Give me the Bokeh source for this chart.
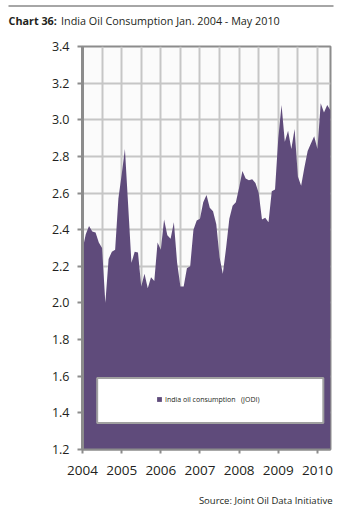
from bokeh.plotting import figure
from bokeh.layouts import column, row
from bokeh.models import (ColumnDataSource, FixedTicker, BoxAnnotation,
                          Legend, LegendItem, PrintfTickFormatter)
from bokeh.core.properties import value
from bokeh.embed import file_html
from bokeh.resources import INLINE

# ---- data (India oil consumption, monthly, Jan 2004 - May 2010) ----
start_year = 2004
consumption = [
    2.29, 2.375, 2.42, 2.39, 2.385, 2.33, 2.30, 2.00, 2.24, 2.28, 2.29, 2.57,   # 2004
    2.70, 2.84, 2.53, 2.22, 2.28, 2.275, 2.09, 2.16, 2.08, 2.14, 2.12, 2.33,    # 2005
    2.29, 2.455, 2.37, 2.35, 2.44, 2.22, 2.09, 2.09, 2.19, 2.20, 2.40, 2.45,    # 2006
    2.46, 2.55, 2.59, 2.52, 2.50, 2.43, 2.25, 2.16, 2.30, 2.46, 2.53, 2.55,     # 2007
    2.63, 2.72, 2.68, 2.67, 2.675, 2.655, 2.60, 2.455, 2.465, 2.44, 2.61, 2.62, # 2008
    2.90, 3.08, 2.88, 2.94, 2.84, 2.95, 2.69, 2.64, 2.74, 2.83, 2.87, 2.91,     # 2009
    2.84, 3.09, 3.04, 3.08, 3.05,                                               # 2010
]
year_ticks = [2004, 2005, 2006, 2007, 2008, 2009, 2010]
y_ticks = [1.2, 1.4, 1.6, 1.8, 2.0, 2.2, 2.4, 2.6, 2.8, 3.0, 3.2, 3.4]
title_bold = "Chart 36:"
title_rest = "India Oil Consumption Jan. 2004 - May 2010"
source_text = "Source: Joint Oil Data Initiative"
legend_label = "India oil consumption   (JODI)"

x = [start_year + i / 12 for i in range(len(consumption))]
src = ColumnDataSource(dict(x=x, y=consumption))

FONT = "Open Sans"
TXT = "#231f20"
GRAY = "#8c8c8c"
W = 341
HEAD_H = 28
FOOT_H = 20
MAIN_H = 508 - HEAD_H - FOOT_H
FRAME_TOP, FRAME_BOTTOM = 46, 449


def blank(height):
    f = figure(width=W, height=height, x_range=(0, W), y_range=(height, 0),
               output_backend="svg", toolbar_location=None,
               min_border=0, outline_line_color=None,
               x_axis_type=None, y_axis_type=None)
    f.grid.visible = False
    return f


# ---- header: rule + title ----
head = blank(HEAD_H)
head.segment(x0=[8], y0=[5.5], x1=[333], y1=[5.5], line_color="#888888", line_width=1.5)
head.text(x=[8], y=[20], text=[title_bold], text_font=value(FONT),
          text_font_style="bold", text_font_size="10.8px", text_color=TXT,
          text_baseline="alphabetic")
head.text(x=[60.5], y=[20], text=[title_rest], text_font=value(FONT),
          text_font_size="10.8px", text_color=TXT, text_baseline="alphabetic")

# ---- main chart ----
p = figure(width=W, height=MAIN_H,
           x_range=(x[0], x[-1]), y_range=(y_ticks[0], y_ticks[-1]),
           output_backend="svg", toolbar_location=None,
           min_border_left=82, min_border_right=11,
           min_border_top=FRAME_TOP - HEAD_H,
           min_border_bottom=HEAD_H + MAIN_H - FRAME_BOTTOM,
           background_fill_color="#fbfbfb", border_fill_color="white",
           outline_line_color=GRAY, outline_line_width=2)

area = p.varea(x="x", y1=y_ticks[0], y2="y", source=src, fill_color="#5f4b7b")

half_years = [year_ticks[0] + k * 0.5 for k in range(2 * (len(year_ticks) - 1) + 1)]
p.xgrid.ticker = FixedTicker(ticks=half_years)
p.ygrid.ticker = FixedTicker(ticks=y_ticks)
for g in (p.xgrid, p.ygrid):
    g.grid_line_color = "#c6c6c6"
    g.grid_line_width = 2

p.xaxis.ticker = FixedTicker(ticks=year_ticks)
p.xaxis.formatter = PrintfTickFormatter(format="%d")
p.yaxis.ticker = FixedTicker(ticks=y_ticks)
p.yaxis.formatter = PrintfTickFormatter(format="%.1f")
for ax in (p.xaxis, p.yaxis):
    ax.axis_line_color = GRAY
    ax.major_tick_line_color = GRAY
    ax.major_tick_line_width = 2
    ax.major_tick_in = 0
    ax.minor_tick_line_color = None
    ax.major_label_text_font = FONT
    ax.major_label_text_color = TXT
p.yaxis.axis_line_width = 3
p.yaxis.major_tick_out = 5
p.yaxis.major_label_standoff = 8
p.yaxis.major_label_text_font_size = "12.5px"
p.xaxis.axis_line_width = 2
p.xaxis.major_tick_out = 4
p.xaxis.major_label_standoff = 12
p.xaxis.major_label_text_font_size = "13.5px"

# legend box
box = BoxAnnotation(left=2004.375, right=2010.15, bottom=1.344, top=1.59,
                    fill_color="white", fill_alpha=1.0,
                    line_color="#a0a0a0", line_width=2, line_alpha=1.0)
p.add_layout(box)
legend = Legend(items=[LegendItem(label=legend_label, renderers=[area])],
                location=(74, 45), padding=0, margin=0, spacing=0,
                glyph_width=6, glyph_height=6, label_height=10, label_standoff=3,
                label_text_font=FONT, label_text_font_size="7px", label_text_color=TXT,
                background_fill_alpha=0, border_line_color=None)
p.add_layout(legend, "center")

# ---- footer: source ----
foot = blank(FOOT_H)
foot.text(x=[332], y=[12], text=[source_text], text_font=value(FONT),
          text_font_size="9.5px", text_color=TXT, text_align="right",
          text_baseline="alphabetic")

layout = column(row(head), p, row(foot), spacing=0)
open("out.html", "w").write(file_html(layout, INLINE))
